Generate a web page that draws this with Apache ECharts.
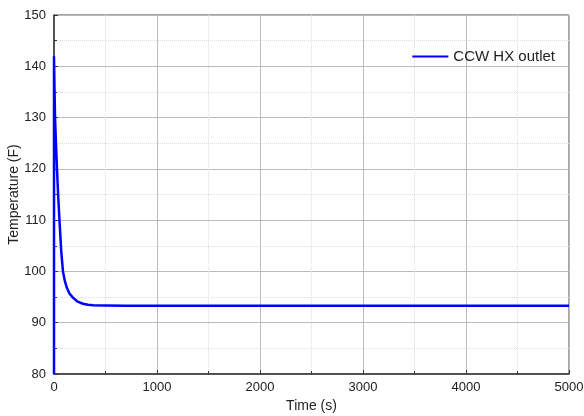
<!DOCTYPE html>
<html>
<head>
<meta charset="utf-8">
<script src="https://cdn.jsdelivr.net/npm/echarts@6/dist/echarts.min.js"></script>
<style>
  html, body { margin: 0; padding: 0; background: #fff; }
  #chart { width: 584px; height: 416px; }
</style>
</head>
<body>
<div id="chart"></div>
<script>
  // time (s) and temperature (F)
  var timeSec = [0, 0, 5, 10, 20, 29, 40, 53, 70, 87, 107, 125, 150, 184, 230, 281, 330, 379, 500, 700, 5000];
  var tempF = [80, 141.8, 135.5, 130, 124.5, 120, 115, 110, 104, 100, 98, 96.8, 95.7, 94.9, 94.1, 93.7, 93.5, 93.4, 93.35, 93.3, 93.3];
  var seriesName = 'CCW HX outlet';

  var points = timeSec.map(function (t, i) { return [t, tempF[i]]; });

  var font = 'Liberation Sans, Arial, sans-serif';
  var chart = echarts.init(document.getElementById('chart'));

  chart.setOption({
    animation: false,
    backgroundColor: '#fff',
    grid: {
      left: 54, right: 15, top: 15, bottom: 42,
      outerBoundsMode: 'none', containLabel: false,
      show: true, borderColor: '#444', borderWidth: 1
    },
    legend: {
      right: 24, top: 44,
      itemWidth: 36, itemHeight: 2, itemGap: 4,
      icon: 'rect',
      textStyle: { fontFamily: font, fontSize: 15, color: '#222', padding: [0, 0, 0, 0] },
      data: [seriesName]
    },
    xAxis: {
      type: 'value', min: 0, max: 5000, interval: 1000,
      name: 'Time (s)', nameLocation: 'middle', nameGap: 24,
      nameTextStyle: { fontFamily: font, fontSize: 14, color: '#222' },
      axisLine: { show: true, lineStyle: { color: '#333', width: 1.5 } },
      axisTick: { show: true, inside: true, length: 4, lineStyle: { color: '#333' } },
      minorTick: { show: true, splitNumber: 2, length: 3, lineStyle: { color: '#333' } },
      axisLabel: { fontFamily: font, fontSize: 13, color: '#222', margin: 7, formatter: function (v) { return String(v); } },
      splitLine: { show: true, lineStyle: { color: '#bbb', width: 1 } },
      minorSplitLine: { show: true, lineStyle: { color: '#ddd', type: 'dotted' } }
    },
    yAxis: {
      type: 'value', min: 80, max: 150, interval: 10,
      name: 'Temperature (F)', nameLocation: 'middle', nameGap: 33, nameRotate: 90,
      nameMoveOverlap: false,
      nameTextStyle: { fontFamily: font, fontSize: 14, color: '#222' },
      axisLine: { show: true, lineStyle: { color: '#333', width: 1.5 } },
      axisTick: { show: true, inside: true, length: 4, lineStyle: { color: '#333' } },
      minorTick: { show: true, splitNumber: 2, length: 3, lineStyle: { color: '#333' } },
      axisLabel: { fontFamily: font, fontSize: 13, color: '#222', margin: 8, formatter: function (v) { return String(v); } },
      splitLine: { show: true, lineStyle: { color: '#bbb', width: 1 } },
      minorSplitLine: { show: true, lineStyle: { color: '#ddd', type: 'dotted' } }
    },
    series: [{
      name: seriesName,
      type: 'line',
      data: points,
      showSymbol: false,
      lineStyle: { color: '#0000ff', width: 2.5, join: 'round' },
      itemStyle: { color: '#0000ff' }
    }]
  });
</script>
</body>
</html>
